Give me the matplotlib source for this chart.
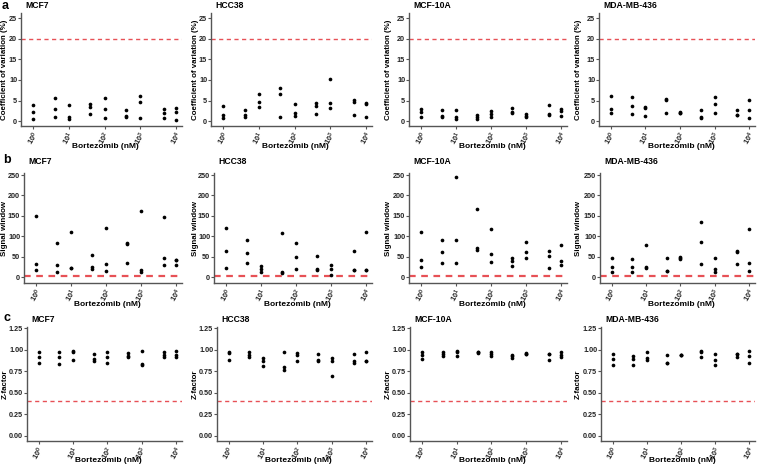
import matplotlib
matplotlib.use("Agg")
import matplotlib.pyplot as plt
import numpy as np

doses = [1, 4, 10, 40, 100, 400, 1000, 4500, 10000]
tick_doses = [1, 10, 100, 1000, 10000]
tick_labels = [r"$10^{0}$", r"$10^{1}$", r"$10^{2}$", r"$10^{3}$", r"$10^{4}$"]
cells = ["MCF7", "HCC38", "MCF-10A", "MDA-MB-436"]

# Coefficient of variation (%) : 3 replicates per dose
cv_mcf7 = [[4.0, 2.2, 0.6], [5.7, 2.9, 1.1], [3.8, 1.0, 0.5], [4.1, 3.5, 1.7], [5.5, 2.85, 0.8],
           [2.6, 1.1, 1.2], [6.0, 4.7, 0.65], [3.0, 2.0, 0.65], [3.1, 2.1, 0.2]]
cv_hcc38 = [[3.6, 1.4, 0.8], [2.8, 1.55, 1.05], [6.5, 4.55, 3.35], [8.05, 6.6, 1.0], [4.1, 1.95, 1.2],
            [4.4, 3.7, 1.8], [10.3, 4.3, 3.1], [5.2, 4.6, 1.5], [4.4, 4.2, 0.9]]
cv_mcf10a = [[2.9, 2.3, 1.0], [2.6, 1.3, 1.05], [2.6, 1.0, 0.5], [1.5, 1.0, 0.57], [2.4, 1.8, 0.9],
             [3.3, 2.3, 2.0], [1.8, 1.3, 0.9], [4.0, 1.7, 1.5], [3.0, 2.4, 1.2]]
cv_mda = [[6.1, 2.9, 2.0], [5.9, 3.6, 1.6], [3.5, 3.3, 1.2], [5.4, 5.1, 2.0], [2.1, 2.0, 1.9],
          [2.8, 1.1, 0.8], [5.9, 4.2, 2.0], [2.8, 1.5, 1.4], [5.2, 2.8, 0.8]]

# Signal window
sw_mcf7 = [[151, 32, 17], [83, 31, 14], [110, 23, 22], [55, 24, 21], [121, 33, 16],
           [84, 81, 35], [163, 18, 14], [147, 47, 30], [43, 42, 30]]
sw_hcc38 = [[121, 65, 22], [92, 59, 34], [27, 20, 13], [108, 12, 10], [85, 49, 21],
            [52, 21, 18], [30, 21, 6], [65, 19, 17], [110, 19, 19]]
sw_mcf10a = [[110, 43, 25], [92, 63, 36], [245, 91, 35], [166, 71, 67], [117, 58, 38],
             [46, 39, 27], [87, 61, 48], [65, 53, 22], [79, 39, 30]]
sw_mda = [[48, 24, 13], [44, 25, 14], [78, 25, 22], [46, 15, 15], [49, 46, 44],
          [135, 86, 33], [46, 20, 14], [64, 62, 32], [119, 34, 15]]

# Z-factor
zf_mcf7 = [[0.98, 0.92, 0.845], [0.97, 0.92, 0.83], [0.99, 0.97, 0.885], [0.95, 0.89, 0.87],
           [0.975, 0.92, 0.845], [0.96, 0.92, 0.93], [0.985, 0.84, 0.82], [0.975, 0.94, 0.915],
           [0.99, 0.94, 0.915]]
zf_hcc38 = [[0.97, 0.96, 0.88], [0.97, 0.94, 0.92], [0.90, 0.875, 0.81], [0.98, 0.80, 0.76],
            [0.96, 0.94, 0.875], [0.95, 0.88, 0.865], [0.91, 0.875, 0.69], [0.955, 0.87, 0.85],
            [0.98, 0.87, 0.87]]
zf_mcf10a = [[0.98, 0.94, 0.895], [0.97, 0.95, 0.925], [0.99, 0.97, 0.925], [0.98, 0.965, 0.97],
             [0.975, 0.955, 0.93], [0.945, 0.93, 0.905], [0.96, 0.95, 0.955], [0.955, 0.88, 0.95],
             [0.97, 0.94, 0.92]]
zf_mda = [[0.95, 0.89, 0.82], [0.93, 0.895, 0.825], [0.97, 0.90, 0.88], [0.945, 0.85, 0.845],
          [0.945, 0.94, 0.945], [0.985, 0.92, 0.97], [0.95, 0.885, 0.825], [0.955, 0.92, 0.95],
          [0.985, 0.925, 0.85]]

rows = [
    dict(letter="a", data=[cv_mcf7, cv_hcc38, cv_mcf10a, cv_mda], ylabel="Coefficient of variation (%)",
         ticks=[0, 5, 10, 15, 20, 25], ticklabels=["0", "5", "10", "15", "20", "25"],
         ylim=(-1.2, 26.3), thr=20, top=13, bottom=126, lefts=[21, 211, 409, 599], lw=1.0,
         title_y=5, letter_xy=(2, 6), xlabel_y=147),
    dict(letter="b", data=[sw_mcf7, sw_hcc38, sw_mcf10a, sw_mda], ylabel="Signal window",
         ticks=[0, 50, 100, 150, 200, 250], ticklabels=["0", "50", "100", "150", "200", "250"],
         ylim=(-14, 255), thr=2, top=173, bottom=283, lefts=[24, 214, 409, 600], lw=1.6,
         title_y=162, letter_xy=(3, 160), xlabel_y=304),
    dict(letter="c", data=[zf_mcf7, zf_hcc38, zf_mcf10a, zf_mda], ylabel="Z-factor",
         ticks=[0, 0.25, 0.5, 0.75, 1.0, 1.25], ticklabels=["0.00", "0.25", "0.50", "0.75", "1.00", "1.25"],
         ylim=(-0.06, 1.265), thr=0.4, top=327, bottom=441, lefts=[27, 217, 410, 601], lw=1.0,
         title_y=320, letter_xy=(3, 318), xlabel_y=460),
]
rights = [182, 372, 567, 755]
ylabel_x = [5, 195, 388, 578]

W, H = 758, 466
plt.rcParams["font.family"] = ["Liberation Sans", "DejaVu Sans"]
plt.rcParams["mathtext.fontset"] = "custom"
plt.rcParams["mathtext.rm"] = "Liberation Sans:bold"
plt.rcParams["mathtext.it"] = "Liberation Sans:bold:italic"
fig = plt.figure(figsize=(W / 100, H / 100), dpi=100)


def px(x, y):
    return x / W, 1 - y / H


for row in rows:
    for j, cell in enumerate(cells):
        l = row["lefts"][j]
        r = rights[j]
        ax = fig.add_axes([l / W, 1 - row["bottom"] / H, (r - l) / W, (row["bottom"] - row["top"]) / H])
        vals = row["data"][j]
        xs, ys = [], []
        for d, reps in zip(doses, vals):
            for v in reps:
                xs.append(d)
                ys.append(v)
        ax.scatter(xs, ys, s=7, color="black", zorder=3, linewidths=0)
        ax.axhline(row["thr"], color="#e53e44", linestyle=(0, (3, 2.5)), lw=row["lw"], alpha=0.9, zorder=2)
        ax.set_xscale("log")
        ax.set_xlim(10 ** -0.34, 10 ** 4.17)
        ax.set_ylim(*row["ylim"])
        ax.set_xticks(tick_doses)
        ax.set_xticklabels(tick_labels, rotation=60, fontsize=5.3, color="#222222")
        ax.xaxis.set_minor_locator(matplotlib.ticker.NullLocator())
        ax.set_yticks(row["ticks"])
        ax.set_yticklabels(row["ticklabels"], fontsize=5.2, fontweight="bold", color="#222222")
        for s in ["top", "right"]:
            ax.spines[s].set_visible(False)
        for s in ["left", "bottom"]:
            ax.spines[s].set_color("#555555")
            ax.spines[s].set_linewidth(1.0)
        ax.tick_params(axis="both", length=2, width=0.8, color="#555555", pad=0.8)
        ax.set_ylabel(row["ylabel"], fontsize=5.7, fontweight="bold", va="center")
        ax.yaxis.set_label_coords(*px(ylabel_x[j], (row["top"] + row["bottom"]) / 2), transform=fig.transFigure)
        ax.set_xlabel("Bortezomib (nM)", fontsize=6, fontweight="bold")
        ax.xaxis.set_label_coords(*px((l + r) / 2 + 4, row["xlabel_y"]), transform=fig.transFigure)
        ax.xaxis.label.set_va("center")
        fig.text(*px(l + 4, row["title_y"]), cell, fontsize=6.2, fontweight="bold",
                 ha="left", va="center")
    fig.text(*px(*row["letter_xy"]), row["letter"], fontsize=9, fontweight="bold",
             ha="left", va="center")

fig.savefig("out.png", dpi=100, facecolor="white")
